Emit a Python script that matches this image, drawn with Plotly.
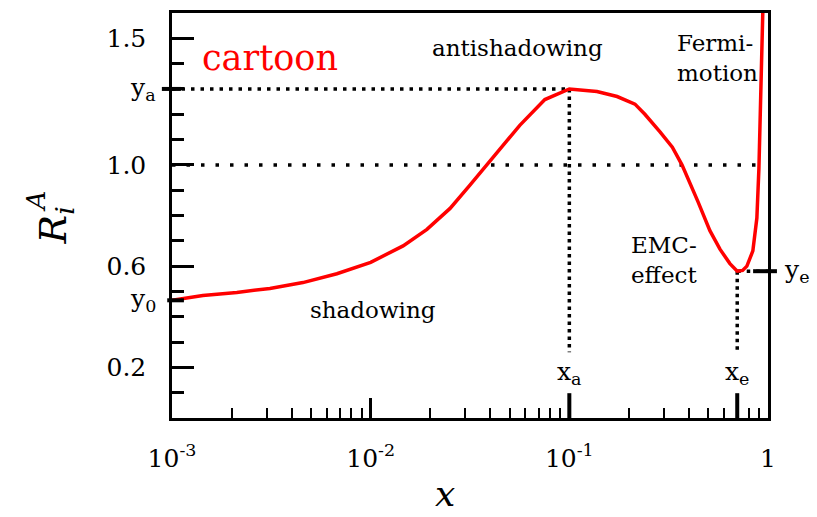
import numpy as np
import plotly.graph_objects as go

# Nuclear modification ratio R_i^A(x): schematic curve
x_vals = [0.001, 0.00143, 0.00212, 0.00311, 0.00456, 0.00676, 0.01, 0.01456,
          0.0192, 0.0251, 0.0316, 0.0385, 0.0464, 0.0563, 0.0753, 0.1, 0.1377,
          0.174, 0.214, 0.240, 0.286, 0.33, 0.369, 0.405, 0.444, 0.510, 0.573,
          0.643, 0.70, 0.745, 0.783, 0.839, 0.879, 0.900, 0.921, 0.942, 0.955]
r_vals = [0.465, 0.484, 0.496, 0.512, 0.535, 0.57, 0.615, 0.68, 0.745, 0.828,
          0.92, 1.0, 1.08, 1.156, 1.258, 1.30, 1.29, 1.27, 1.24, 1.20, 1.13,
          1.07, 1.0, 0.93, 0.855, 0.74, 0.667, 0.61, 0.58, 0.583, 0.60, 0.66,
          0.79, 0.985, 1.246, 1.60, 1.80]

# characteristic points
xa, ya = 0.1, 1.30      # antishadowing maximum
xe, ye = 0.70, 0.58     # EMC minimum
y0 = 0.465              # small-x plateau

y_tickvals = [0.2, 0.6, 1.0, 1.5]
y_ticktext = ["0.2", "0.6", "1.0", "1.5"]
y_minor = [0.1, 0.3, 0.4, 0.5, 0.7, 0.8, 0.9, 1.1, 1.2, 1.3, 1.4]
x_tickvals = [0.001, 0.01, 0.1, 1]
x_ticktext = ["10<sup>-3</sup>", "10<sup>-2</sup>", "10<sup>-1</sup>", "1"]
x_minor = [m * 10.0 ** d for d in (-3, -2, -1) for m in range(2, 10)]

SERIF = "DejaVu Serif"
W, H = 817, 517
L, R, T, B = 172, 49, 10, 99
pw, ph = W - L - R, H - T - B


def px(xp):
    return (xp - L) / pw


def py(yp):
    return (H - B - yp) / ph


fig = go.Figure()

dot_fine = "3.5px,6px"
dot_wide = "3.5px,11px"

# reference lines
fig.add_trace(go.Scatter(x=[0.001, 0.88], y=[1.0, 1.0], mode="lines",
                         line=dict(color="black", width=3.5, dash=dot_wide)))
fig.add_trace(go.Scatter(x=[0.001, xa], y=[ya, ya], mode="lines",
                         line=dict(color="black", width=3.5, dash=dot_fine)))
fig.add_trace(go.Scatter(x=[xa, xa], y=[ya, 0.26], mode="lines",
                         line=dict(color="black", width=3.5, dash="3.5px,4px")))
fig.add_trace(go.Scatter(x=[xe, xe], y=[ye, 0.26], mode="lines",
                         line=dict(color="black", width=3.5, dash="3.5px,4px")))
fig.add_trace(go.Scatter(x=[xe, 1.0], y=[ye, ye], mode="lines",
                         line=dict(color="black", width=3.5, dash=dot_fine)))

# thick markers for x_a and x_e on the x axis
for xv in (xa, xe):
    fig.add_trace(go.Scatter(x=[xv, xv], y=[0, 0.098], mode="lines",
                             line=dict(color="black", width=4)))

# the curve
fig.add_trace(go.Scatter(x=x_vals, y=r_vals, mode="lines",
                         line=dict(color="#ff0000", width=3.5)))

# thick markers for y_a, y_0, y_e
shapes = [
    dict(type="line", xref="paper", yref="y", x0=-0.017, x1=0.015, y0=ya, y1=ya,
         line=dict(color="black", width=4)),
    dict(type="line", xref="paper", yref="y", x0=-0.008, x1=0.02, y0=y0, y1=y0,
         line=dict(color="black", width=4)),
    dict(type="line", xref="paper", yref="y", x0=0.975, x1=1.015, y0=ye, y1=ye,
         line=dict(color="black", width=4)),
]

txt = dict(family=SERIF, size=23, color="black")
lbl = dict(family=SERIF, size=25, color="black")
annotations = [
    dict(text="cartoon", x=px(200), y=py(55), xanchor="left", yanchor="middle",
         font=dict(family=SERIF, size=35, color="#ff0000")),
    dict(text="antishadowing", x=px(517), y=py(45), xanchor="center", yanchor="middle", font=txt),
    dict(text="Fermi-<br>motion", x=px(675), y=py(55), xanchor="left", yanchor="middle",
         align="left", font=txt),
    dict(text="EMC-<br>effect", x=px(629), y=py(259), xanchor="left", yanchor="middle",
         align="left", font=txt),
    dict(text="shadowing", x=px(373), y=py(309), xanchor="center", yanchor="middle", font=txt),
    dict(text="x<sub>a</sub>", xref="x", x=np.log10(xa), y=py(373), xanchor="center",
         yanchor="middle", font=lbl),
    dict(text="x<sub>e</sub>", xref="x", x=np.log10(xe), y=py(373), xanchor="center",
         yanchor="middle", font=lbl),
    dict(text="y<sub>a</sub>", yref="y", y=ya, x=px(158), xanchor="right", yanchor="middle", font=lbl),
    dict(text="y<sub>0</sub>", yref="y", y=y0, x=px(158), xanchor="right", yanchor="middle", font=lbl),
    dict(text="y<sub>e</sub>", yref="y", y=ye, x=px(782), xanchor="left", yanchor="middle", font=lbl),
    # axis titles
    dict(text="<i>x</i>", x=px(445), y=py(494), xanchor="center", yanchor="middle",
         height=34, font=dict(family=SERIF, size=36, color="black")),
    dict(text="<i>R</i><sub><i>i</i></sub>", x=px(55), y=py(224), xanchor="center",
         yanchor="middle", textangle=-90, font=dict(family=SERIF, size=38, color="black")),
    dict(text="<i>A</i>", x=px(36), y=py(200), xanchor="center", yanchor="middle",
         textangle=-90, font=dict(family=SERIF, size=26, color="black")),
]
for a in annotations:
    a.setdefault("xref", "paper")
    a.setdefault("yref", "paper")
    a["showarrow"] = False

axis_common = dict(showline=True, linecolor="black", linewidth=2.5, mirror=True,
                   showgrid=False, zeroline=False, ticks="inside", tickcolor="black",
                   tickwidth=2.5, tickfont=dict(family=SERIF, size=25, color="black"))

fig.update_layout(
    width=W, height=H, autosize=False,
    margin=dict(l=L, r=R, t=T, b=B),
    paper_bgcolor="white", plot_bgcolor="white",
    showlegend=False,
    font=dict(family=SERIF),
    shapes=shapes,
    annotations=annotations,
    xaxis=dict(type="log", range=[-3, 0], tickmode="array", tickvals=x_tickvals,
               ticktext=x_ticktext, ticklen=20, ticklabelstandoff=16,
               minor=dict(tickmode="array", tickvals=x_minor, ticks="inside",
                          ticklen=10, tickwidth=2, tickcolor="black"),
               **axis_common),
    yaxis=dict(range=[0, 1.6], tickmode="array", tickvals=y_tickvals,
               ticktext=y_ticktext, ticklen=22, ticklabelstandoff=18,
               minor=dict(tickmode="array", tickvals=y_minor, ticks="inside",
                          ticklen=12, tickwidth=2.5, tickcolor="black"),
               **axis_common),
)

fig.write_html("out.html")
